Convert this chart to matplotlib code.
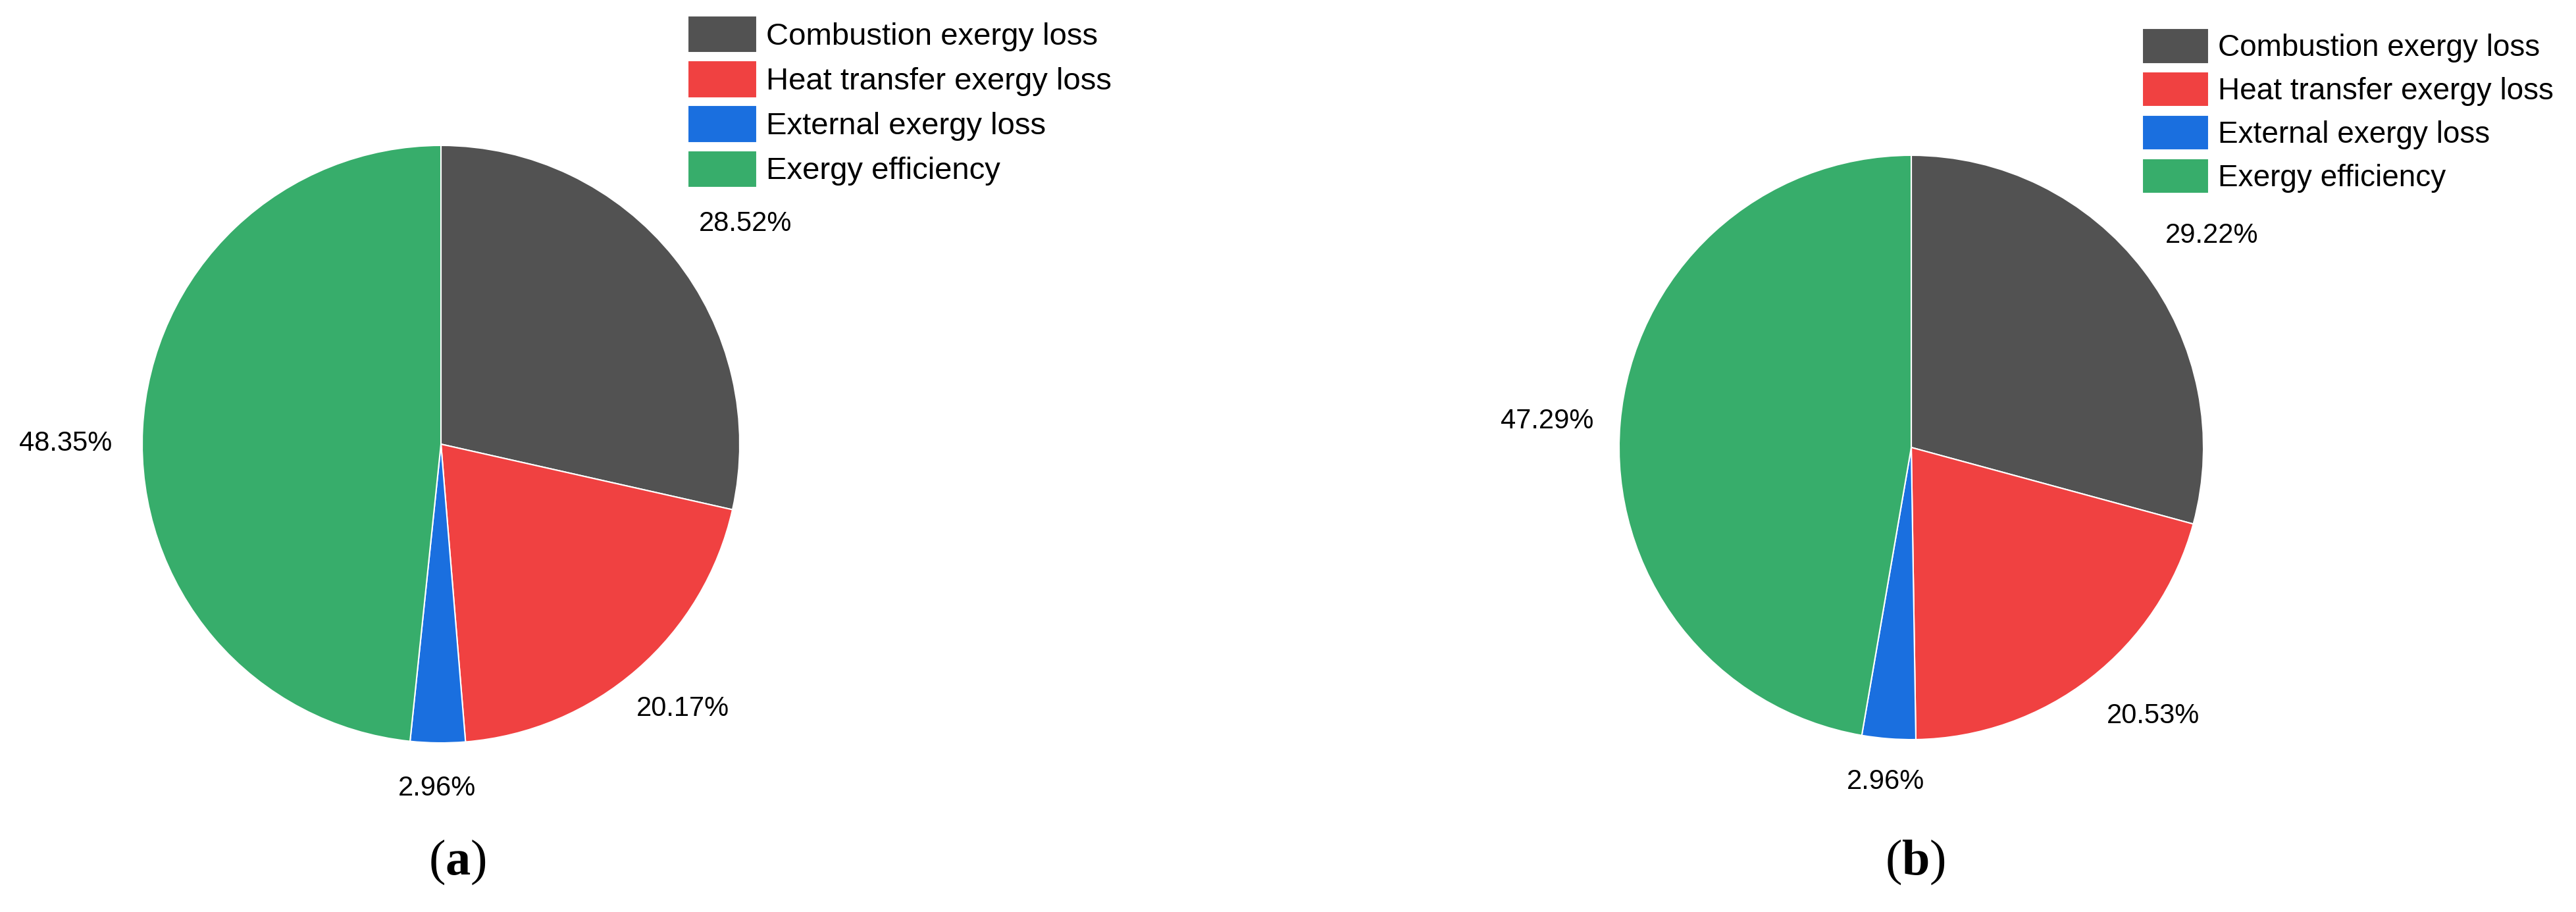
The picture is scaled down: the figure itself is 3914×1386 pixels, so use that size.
import matplotlib.pyplot as plt
import numpy as np

# exergy distribution, two cases
categories = ['Combustion exergy loss', 'Heat transfer exergy loss',
              'External exergy loss', 'Exergy efficiency']
values_a = [28.52, 20.17, 2.96, 48.35]
values_b = [29.22, 20.53, 2.96, 47.29]
panel_labels = ['a', 'b']
colors = ['#525252', '#F04141', '#1A6FDF', '#37AD6B']

W, H = 3914, 1386
plt.rcParams['font.family'] = ['Liberation Sans', 'DejaVu Sans']
plt.rcParams['mathtext.fontset'] = 'custom'
plt.rcParams['mathtext.rm'] = 'Liberation Serif'
plt.rcParams['mathtext.bf'] = 'Liberation Serif:bold'
fig = plt.figure(figsize=(W / 100, H / 100), dpi=100)


def draw_pie(values, cx, cy, r, pctdist, shift):
    # cx, cy, r in pixels (cy from top)
    ax = fig.add_axes([(cx - r) / W, (H - cy - r) / H, 2 * r / W, 2 * r / H])
    wedges, _ = ax.pie(values, colors=colors, startangle=90, counterclock=False,
                       radius=1, wedgeprops=dict(edgecolor='white', linewidth=1.5))
    # labels sit just outside the slice, nudged a little like the original
    for w, v, d, s in zip(wedges, values, pctdist, shift):
        ang = np.deg2rad((w.theta1 + w.theta2) / 2 + s)
        ax.text(d * np.cos(ang), d * np.sin(ang), f'{v:.2f}%',
                ha='center', va='center', fontsize=30, clip_on=False)
    ax.set_xlim(-1, 1)
    ax.set_ylim(-1, 1)
    ax.set_aspect('equal')
    ax.axis('off')
    return wedges


wa = draw_pie(values_a, 670, 675, 454, [1.258, 1.20, 1.152, 1.256], [-2.7, 1.4, 0, 2.9])
wb = draw_pie(values_b, 2904, 680, 444, [1.259, 1.237, 1.147, 1.25], [-2.2, 4.2, 0, 0.7])

fig.legend(wa, categories, loc='upper left', bbox_to_anchor=(1045 / W, 1 - 24 / H),
           frameon=False, fontsize=34, handlelength=2.22, handleheight=1.46,
           labelspacing=0.25, handletextpad=0.3, borderpad=0, borderaxespad=0)
fig.legend(wb, categories, loc='upper left', bbox_to_anchor=(3255 / W, 1 - 43 / H),
           frameon=False, fontsize=33, handlelength=2.2, handleheight=1.42,
           labelspacing=0.27, handletextpad=0.3, borderpad=0, borderaxespad=0)

for lab, x in zip(panel_labels, [695, 2910]):
    fig.text(x / W, 1 - 1310 / H, r'$\mathrm{(}\mathbf{' + lab + r'}\mathrm{)}$',
             ha='center', va='center', fontsize=55)

fig.savefig('out.png', dpi=100)
